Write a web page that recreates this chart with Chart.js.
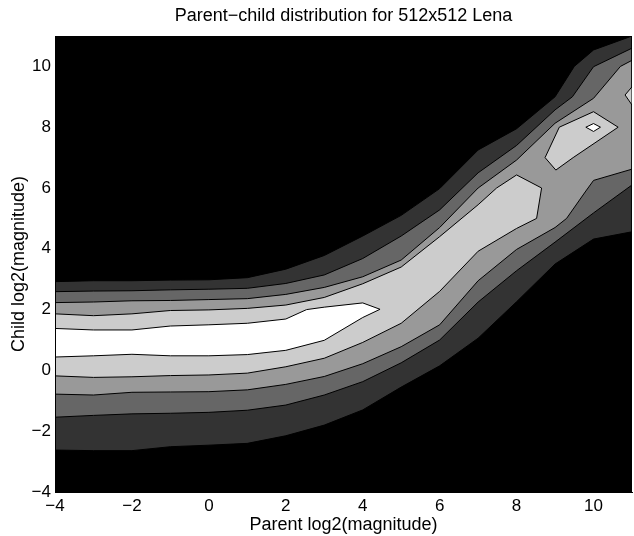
<!DOCTYPE html>
<html>
<head>
<meta charset="utf-8">
<script src="https://cdn.jsdelivr.net/npm/chart.js@4.4.1/dist/chart.umd.min.js"></script>
<style>
  html, body { margin: 0; padding: 0; background: #fff; }
  #wrap { width: 634px; height: 536px; }
</style>
</head>
<body>
<div id="wrap"><canvas id="chart" width="634" height="536"></canvas></div>
<script>
// grid columns (parent log2 magnitude)
const parentX = [-4, -3, -2, -1, 0, 1, 2, 3, 4, 5, 6, 7, 8, 9, 10, 11];

// level 1 band (dark grey)
const l1TopX = [-4, -3, -2, -1, 0, 1, 2, 3, 4, 5, 6, 7, 8, 9, 9.5, 10, 11];
const l1TopY = [2.92, 2.95, 2.95, 2.97, 2.98, 3.05, 3.33, 3.78, 4.42, 5.1, 5.98, 7.25, 7.95, 9.0, 10.0, 10.54, 11.0];
const l1BotY = [-2.62, -2.64, -2.64, -2.51, -2.46, -2.40, -2.15, -1.80, -1.30, -0.55, 0.15, 1.06, 2.26, 3.5, 4.32, 4.56];

// level 2 band
const l2TopX = [-4, -3, -2, -1, 0, 1, 2, 3, 4, 5, 6, 7, 8, 9, 9.45, 10, 11];
const l2TopY = [2.59, 2.61, 2.62, 2.65, 2.67, 2.70, 2.86, 3.14, 3.68, 4.42, 5.28, 6.5, 7.4, 8.57, 9.0, 9.99, 10.6];
const l2BotY = [-1.54, -1.48, -1.43, -1.41, -1.38, -1.31, -1.14, -0.81, -0.37, 0.25, 1.0, 2.25, 3.28, 4.22, 5.18, 6.1];

// level 3 band
const l3TopX = [-4, -3, -2, -1, 0, 1, 2, 3, 4, 5, 6, 7, 8, 9, 10, 10.7, 11];
const l3TopY = [2.23, 2.25, 2.29, 2.30, 2.33, 2.36, 2.50, 2.73, 3.08, 3.63, 4.7, 6.0, 6.92, 8.13, 8.95, 10.0, 10.2];
const l3BotX = [-4, -3, -2, -1, 0, 1, 2, 3, 4, 5, 6, 7, 8, 9, 9.3, 9.8, 10, 11];
const l3BotY = [-0.78, -0.81, -0.72, -0.71, -0.70, -0.64, -0.46, -0.2, 0.22, 0.78, 1.5, 2.95, 3.98, 4.7, 5.0, 5.9, 6.25, 6.62];

// level 4 band + islands
const l4TopX = [-4, -3, -2, -1, 0, 1, 2, 3, 4, 5, 6, 7, 7.48, 8, 8.65];
const l4TopY = [1.86, 1.80, 1.86, 1.97, 1.99, 2.04, 2.15, 2.40, 2.85, 3.4, 4.4, 5.45, 6.0, 6.43, 6.0];
const l4BotX = [-4, -3, -2, -1, 0, 1, 2, 3, 4, 5, 6, 7, 8, 8.52];
const l4BotY = [-0.18, -0.23, -0.21, -0.17, -0.15, -0.09, 0.12, 0.40, 0.92, 1.55, 2.6, 3.92, 4.67, 5.0];
const l4IslandX = [8.74, 9.11, 10.0, 10.64, 9.47, 9.02];
const l4IslandY = [7.0, 8.0, 8.51, 8.0, 7.0, 6.59];
const l4EdgeX = [11, 10.82, 11];
const l4EdgeY = [9.33, 9.06, 8.73];

// level 5 (peak) band + island
const l5TopX = [-4, -3, -2, -1, 0, 1, 2, 2.54, 3, 4, 4.45];
const l5TopY = [1.38, 1.33, 1.33, 1.46, 1.50, 1.55, 1.69, 2.0, 2.08, 2.22, 2.01];
const l5BotX = [-4, -3, -2, -1, 0, 1, 2, 3, 4];
const l5BotY = [0.44, 0.48, 0.53, 0.48, 0.48, 0.52, 0.66, 0.99, 1.74];
const l5IslandX = [9.8, 10.0, 10.18, 10.0];
const l5IslandY = [8.0, 8.12, 8.0, 7.86];

const xTicks = [-4, -2, 0, 2, 4, 6, 8, 10];
const yTicks = [-4, -2, 0, 2, 4, 6, 8, 10];

const levelColors = ['#333333', '#666666', '#999999', '#cccccc', '#ffffff'];

// closed outline: upper edge left->right, lower edge back right->left
function ring(topX, topY, botX, botY) {
    const pts = topX.map((x, i) => ({ x, y: topY[i] }));
    for (let i = botX.length - 1; i >= 0; i--) {
        pts.push({ x: botX[i], y: botY[i] });
    }
    pts.push(pts[0]);
    return pts;
}

function loop(xs, ys) {
    const pts = xs.map((x, i) => ({ x, y: ys[i] }));
    pts.push(pts[0]);
    return pts;
}

const regions = [
    { level: 1, data: ring(l1TopX, l1TopY, parentX, l1BotY) },
    { level: 2, data: ring(l2TopX, l2TopY, parentX, l2BotY) },
    { level: 3, data: ring(l3TopX, l3TopY, l3BotX, l3BotY) },
    { level: 4, data: ring(l4TopX, l4TopY, l4BotX, l4BotY) },
    { level: 4, data: loop(l4IslandX, l4IslandY) },
    { level: 4, data: loop(l4EdgeX, l4EdgeY) },
    { level: 5, data: ring(l5TopX, l5TopY, l5BotX, l5BotY) },
    { level: 5, data: loop(l5IslandX, l5IslandY) }
];

const datasets = regions.map((r, i) => ({
    data: r.data,
    backgroundColor: levelColors[r.level - 1],
    borderColor: '#000',
    borderWidth: 1,
    fill: 'shape',
    pointRadius: 0,
    pointHoverRadius: 0,
    tension: 0,
    order: 100 - i
}));

const plotBackground = {
    id: 'plotBackground',
    beforeDatasetsDraw(chart) {
        const { ctx, chartArea: a } = chart;
        ctx.save();
        ctx.fillStyle = '#000';
        ctx.fillRect(a.left, a.top, a.width, a.height);
        ctx.restore();
    }
};

const minus = v => String(v).replace('-', '\u2212');

Chart.defaults.font.family = '"Liberation Sans", Arial, Helvetica, sans-serif';
Chart.defaults.color = '#000';

new Chart(document.getElementById('chart'), {
    type: 'line',
    data: { datasets },
    plugins: [plotBackground],
    options: {
        responsive: false,
        animation: false,
        devicePixelRatio: 1,
        layout: { padding: { left: 0, right: 2, top: 0, bottom: 0 } },
        plugins: {
            legend: { display: false },
            tooltip: { enabled: false },
            title: {
                display: true,
                text: 'Parent\u2212child distribution for 512x512 Lena',
                fullSize: false,
                font: { size: 18, weight: 'normal' },
                padding: { top: 5, bottom: 9.4 }
            }
        },
        scales: {
            x: {
                type: 'linear',
                min: -4,
                max: 11,
                afterBuildTicks: s => { s.ticks = xTicks.map(value => ({ value })); },
                afterFit: s => { s.height = 44; },
                grid: { display: false, drawTicks: false },
                border: { display: true, color: '#000', width: 1, z: 1 },
                ticks: { font: { size: 17 }, padding: 4, maxRotation: 0, autoSkip: false, callback: minus },
                title: {
                    display: true,
                    text: 'Parent log2(magnitude)',
                    font: { size: 18 },
                    padding: { top: 0, bottom: 0 }
                }
            },
            y: {
                type: 'linear',
                min: -4,
                max: 11,
                afterBuildTicks: s => { s.ticks = yTicks.map(value => ({ value })); },
                afterFit: s => { s.width = 55; },
                grid: { display: false, drawTicks: false },
                border: { display: true, color: '#000', width: 1, z: 1 },
                ticks: { font: { size: 17 }, padding: 4, autoSkip: false, callback: minus },
                title: {
                    display: true,
                    text: 'Child log2(magnitude)',
                    font: { size: 18 },
                    padding: { top: 8, bottom: 0 }
                }
            }
        }
    }
});
</script>
</body>
</html>
